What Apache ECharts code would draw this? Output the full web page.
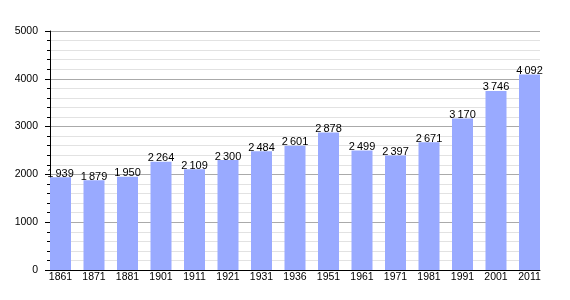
<!DOCTYPE html>
<html><head><meta charset="utf-8">
<script src="https://cdn.jsdelivr.net/npm/echarts@6/dist/echarts.min.js"></script>
<style>html,body{margin:0;padding:0;background:#fff}#c{width:570px;height:300px}</style>
</head><body><div id="c"></div>
<script>
const years = ['1861','1871','1881','1901','1911','1921','1931','1936','1951','1961','1971','1981','1991','2001','2011'];
const population = [1939,1879,1950,2264,2109,2300,2484,2601,2878,2499,2397,2671,3170,3746,4092];
const yTicks = [0,1000,2000,3000,4000,5000];

function fmt(v){const s=String(v);return s.length>3? s.slice(0,s.length-3)+'\u2009'+s.slice(-3):s;}

const yMin = yTicks[0], yMax = yTicks[yTicks.length-1];
const chart = echarts.init(document.getElementById('c'), null, {renderer:'canvas'});
chart.setOption({
  animation:false,
  textStyle:{fontFamily:'Liberation Sans, Arial, sans-serif'},
  grid:[
    {left:50,right:30,top:31,bottom:30,containLabel:false},
    {left:60.5,right:40.5,top:31,bottom:30,containLabel:false}
  ],
  xAxis:[
    {gridIndex:0,type:'value',min:0,max:1,
      axisLine:{show:true,onZero:false,lineStyle:{color:'#000',width:1}},
      axisTick:{show:false},axisLabel:{show:false},splitLine:{show:false}},
    {gridIndex:1,type:'category',data:years,boundaryGap:false,
      axisLine:{show:false},axisTick:{show:false},
      axisLabel:{color:'#000',fontSize:10.5,margin:2},splitLine:{show:false}}
  ],
  yAxis:[
    {gridIndex:0,type:'value',min:yMin,max:yMax,interval:1000,
      axisLine:{show:true,lineStyle:{color:'#000',width:1}},
      axisTick:{show:true,inside:false,length:5,lineStyle:{color:'#000'}},
      minorTick:{show:true,splitNumber:5,length:3,lineStyle:{color:'#000'}},
      axisLabel:{color:'#000',fontSize:10.5,margin:12,formatter:v=>String(v)},
      splitLine:{lineStyle:{color:'#aaaaaa',width:1}},
      minorSplitLine:{show:true,lineStyle:{color:'#e2e2e2',width:1}}},
    {gridIndex:1,type:'value',min:yMin,max:yMax,show:false}
  ],
  series:[{type:'bar',xAxisIndex:1,yAxisIndex:1,data:population,barWidth:21,
    itemStyle:{color:'#99aaff'},
    label:{show:true,position:'top',distance:-2,color:'#000',fontSize:11,formatter:p=>fmt(p.value)}
  }]
});
</script></body></html>
